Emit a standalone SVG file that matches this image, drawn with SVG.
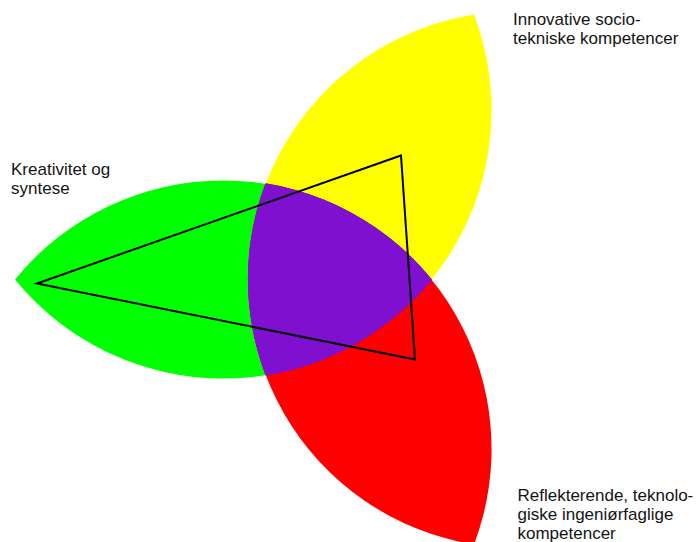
<svg xmlns="http://www.w3.org/2000/svg" xmlns:xlink="http://www.w3.org/1999/xlink" width="699" height="542" viewBox="0 0 699 542">
<style>
.lbl{font-family:"Liberation Sans",Arial,sans-serif;font-size:17px;fill:#141414}
.ovl{fill:#8010d0}
</style>
<defs>
<path id="lens" d="M-306 0A269 269 0 0 1 111 0A269 269 0 0 1 -306 0Z"/>
<clipPath id="cg"><use href="#lens" xlink:href="#lens" transform="translate(321 279.5)"/></clipPath>
<clipPath id="cy"><use href="#lens" xlink:href="#lens" transform="translate(321 279.5) rotate(120)"/></clipPath>
</defs>
<rect width="699" height="542" fill="#fff"/>
<g id="leaf-green"><use href="#lens" xlink:href="#lens" transform="translate(321 279.5)" fill="#00ff00"/></g>
<g id="leaf-yellow"><use href="#lens" xlink:href="#lens" transform="translate(321 279.5) rotate(120)" fill="#ffff00"/></g>
<g id="leaf-red"><use href="#lens" xlink:href="#lens" transform="translate(321 279.5) rotate(240)" fill="#ff0000"/></g>
<g id="overlap">
<g clip-path="url(#cg)">
<use class="ovl" href="#lens" xlink:href="#lens" transform="translate(321 279.5) rotate(120)"/>
<use class="ovl" href="#lens" xlink:href="#lens" transform="translate(321 279.5) rotate(240)"/>
</g>
<g clip-path="url(#cy)">
<use class="ovl" href="#lens" xlink:href="#lens" transform="translate(321 279.5) rotate(240)"/>
</g>
</g>
<g id="connectors">
<polygon points="37,283.5 401,155.5 415,359.5" fill="none" stroke="#000" stroke-width="2" stroke-linejoin="miter"/>
</g>
<g id="label-kreativitet">
<text class="lbl" x="11" y="175">Kreativitet og</text>
<text class="lbl" x="11" y="193.5">syntese</text>
</g>
<g id="label-innovative">
<text class="lbl" x="513" y="25">Innovative socio-</text>
<text class="lbl" x="513" y="44">tekniske kompetencer</text>
</g>
<g id="label-reflekterende">
<text class="lbl" x="517.5" y="501">Reflekterende, teknolo-</text>
<text class="lbl" x="517.5" y="520">giske ingeniørfaglige</text>
<text class="lbl" x="517.5" y="539">kompetencer</text>
</g>
</svg>
